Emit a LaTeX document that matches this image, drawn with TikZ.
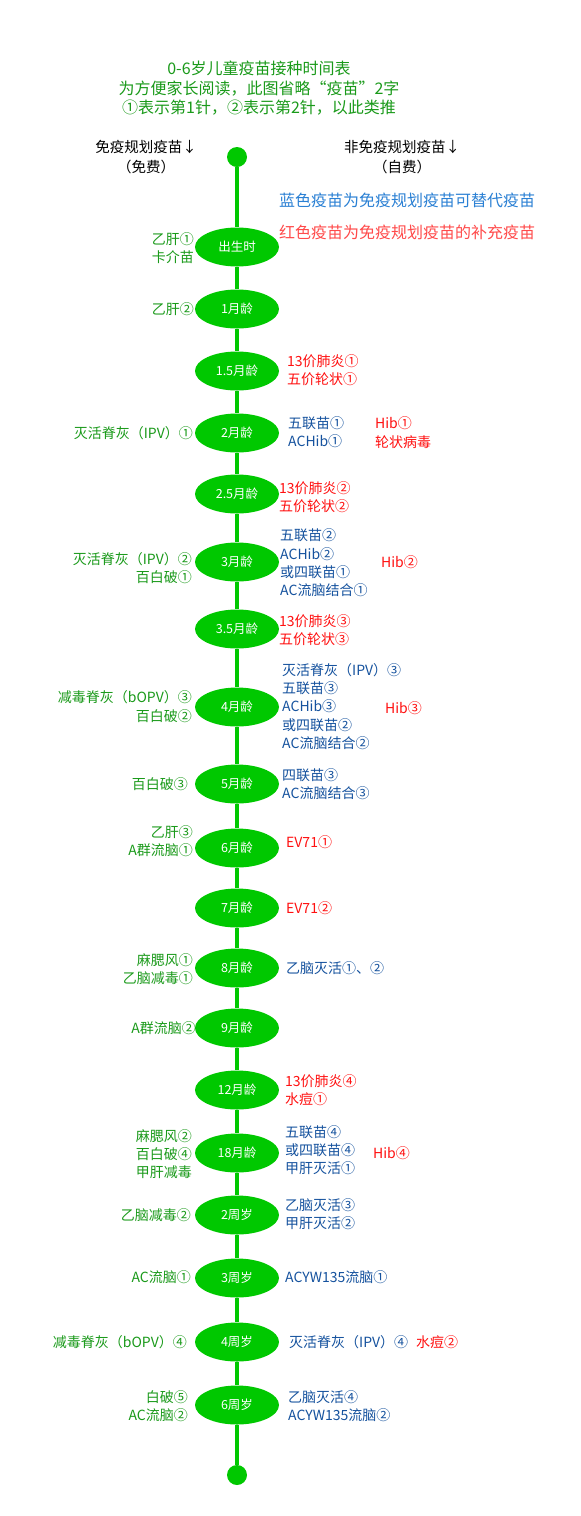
\documentclass[tikz,border=0pt]{standalone}
\usepackage{fontspec}
\setmainfont{Noto Sans CJK SC}
\usetikzlibrary{shapes.geometric}
\definecolor{eg}{HTML}{00C800}
\definecolor{lg}{HTML}{1A9A1A}
\definecolor{rb}{HTML}{15529E}
\definecolor{rr}{HTML}{FF1010}
\definecolor{legb}{HTML}{2A80D4}
\definecolor{legr}{HTML}{FF4A4A}
\tikzset{
  age/.style={ellipse, fill=eg, minimum width=84pt, minimum height=39pt, inner sep=0pt, text=white, font=\fontsize{12.5}{14}\selectfont},
  dot/.style={circle, fill=eg, minimum size=20pt, inner sep=0pt},
  spine/.style={eg, line width=4pt},
  lt/.style={anchor=east, align=right, text=lg, inner sep=0pt, font=\fontsize{14}{18.3}\selectfont},
  rt/.style={anchor=west, align=left, text=rb, inner sep=0pt, font=\fontsize{14}{18.3}\selectfont},
  rd/.style={rt, text=rr},
  ttl/.style={align=center, text=lg, inner sep=0pt, font=\fontsize{16}{20}\selectfont},
  hdr/.style={align=center, text=black, inner sep=0pt, font=\fontsize{14.5}{20}\selectfont},
  leg/.style={anchor=west, inner sep=0pt, font=\fontsize{16}{18}\selectfont}
}
\begin{document}
\begin{tikzpicture}[x=1pt,y=-1pt]
\useasboundingbox (0,0) rectangle (581,1516);
\fill[white] (0,0) rectangle (581,1516);
% title
\node[ttl] (t1) at (259,68) {0-6岁儿童疫苗接种时间表};
\node[ttl] (t2) at (259,88.5) {为方便家长阅读，此图省略“疫苗”2字};
\node[ttl] (t3) at (259,108) {①表示第1针，②表示第2针，以此类推};
% headers
\node[hdr] (h1) at (146,157) {免疫规划疫苗↓\\（免费）};
\node[hdr] (h2) at (402,157) {非免疫规划疫苗↓\\（自费）};
\node[leg, text=legb] (lb) at (279,200) {蓝色疫苗为免疫规划疫苗可替代疫苗};
\node[leg, text=legr] (lr) at (279,232) {红色疫苗为免疫规划疫苗的补充疫苗};
% spine nodes
\node[dot] (top) at (237,157) {};
\node[age] (a1) at (237,247) {出生时};
\node[age] (a2) at (237,309) {1月龄};
\node[age] (a3) at (237,371) {1.5月龄};
\node[age] (a4) at (237,433) {2月龄};
\node[age] (a5) at (237,494) {2.5月龄};
\node[age] (a6) at (237,562) {3月龄};
\node[age] (a7) at (237,629) {3.5月龄};
\node[age] (a8) at (237,707) {4月龄};
\node[age] (a9) at (237,784) {5月龄};
\node[age] (a10) at (237,848) {6月龄};
\node[age] (a11) at (237,908) {7月龄};
\node[age] (a12) at (237,968) {8月龄};
\node[age] (a13) at (237,1028) {9月龄};
\node[age] (a14) at (237,1090) {12月龄};
\node[age] (a15) at (237,1153) {18月龄};
\node[age] (a16) at (237,1215) {2周岁};
\node[age] (a17) at (237,1278) {3周岁};
\node[age] (a18) at (237,1342) {4周岁};
\node[age] (a19) at (237,1405) {6周岁};
\node[dot] (bot) at (237,1475) {};
\draw[spine] (top) -- (a1);
\foreach \i [evaluate=\i as \j using int(\i+1)] in {1,...,18} {\draw[spine] (a\i) -- (a\j);}
\draw[spine] (a19) -- (bot);
% left (free)
\node[lt] (l1) at (194,248) {乙肝①\\卡介苗};
\node[lt] (l2) at (194,309) {乙肝②};
\node[lt] (l4) at (193,433) {灭活脊灰（IPV）①};
\node[lt] (l6) at (192,568) {灭活脊灰（IPV）②\\百白破①};
\node[lt] (l8) at (192,706.5) {减毒脊灰（bOPV）③\\百白破②};
\node[lt] (l9) at (188,784) {百白破③};
\node[lt] (l10) at (193,841.5) {乙肝③\\A群流脑①};
\node[lt] (l12) at (193,969) {麻腮风①\\乙脑减毒①};
\node[lt] (l13) at (196,1028) {A群流脑②};
\node[lt] (l15) at (192,1154) {麻腮风②\\百白破④\\甲肝减毒};
\node[lt] (l16) at (191,1215) {乙脑减毒②};
\node[lt] (l17) at (191,1277) {AC流脑①};
\node[lt] (l18) at (187,1342) {减毒脊灰（bOPV）④};
\node[lt] (l19) at (188,1406) {白破⑤\\AC流脑②};
% right (self-paid)
\node[rd] (r3) at (287,370.5) {13价肺炎①\\五价轮状①};
\node[rt] (r4) at (288,432.5) {五联苗①\\ACHib①};
\node[rd] (r4b) at (375,432.5) {Hib①\\轮状病毒};
\node[rd] (r5) at (279,497) {13价肺炎②\\五价轮状②};
\node[rt] (r6) at (280,563) {五联苗②\\ACHib②\\或四联苗①\\AC流脑结合①};
\node[rd] (r6b) at (381,562) {Hib②};
\node[rd] (r7) at (279,630) {13价肺炎③\\五价轮状③};
\node[rt] (r8) at (282,706.5) {灭活脊灰（IPV）③\\五联苗③\\ACHib③\\或四联苗②\\AC流脑结合②};
\node[rd] (r8b) at (385,708) {Hib③};
\node[rt] (r9) at (282,784.5) {四联苗③\\AC流脑结合③};
\node[rd] (r10) at (286,842) {EV71①};
\node[rd] (r11) at (286,908) {EV71②};
\node[rt] (r12) at (286,968) {乙脑灭活①、②};
\node[rd] (r14) at (285,1090) {13价肺炎④\\水痘①};
\node[rt] (r15) at (285,1150) {五联苗④\\或四联苗④\\甲肝灭活①};
\node[rd] (r15b) at (373,1153) {Hib④};
\node[rt] (r16) at (285,1214) {乙脑灭活③\\甲肝灭活②};
\node[rt] (r17) at (285,1277) {ACYW135流脑①};
\node[rt] (r18) at (289,1342) {灭活脊灰（IPV）④};
\node[rd] (r18b) at (416,1342) {水痘②};
\node[rt] (r19) at (288,1406) {乙脑灭活④\\ACYW135流脑②};
\end{tikzpicture}
\end{document}
